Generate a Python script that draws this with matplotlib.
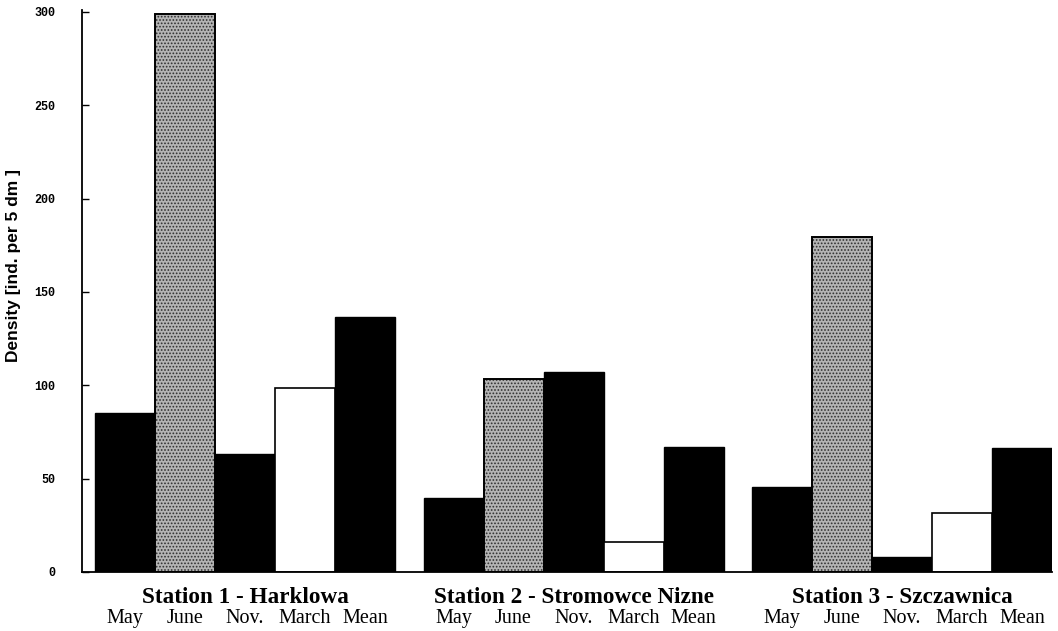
import numpy as np
import matplotlib.pyplot as plt

# datos
estaciones = ['Station 1 - Harklowa', 'Station 2 - Stromowce Nizne', 'Station 3 - Szczawnica']
meses = ['May', 'June', 'Nov.', 'March', 'Mean']
est1 = [85, 299, 63, 98.5, 136.5]
est2 = [39.5, 103.5, 107, 16, 67]
est3 = [45.5, 179.5, 8, 31.5, 66.5]
yticks = [0, 50, 100, 150, 200, 250, 300]

datos = [est1, est2, est3]
estilos = ['negro', 'gris', 'negro', 'blanco', 'negro']
separacion = 5.475  # inicio de cada grupo, en anchos de barra

fig = plt.figure(figsize=(10.58, 6.31), dpi=100)
ax = fig.add_axes([82/1058, 1 - 572/631, (1052 - 82)/1058, 560/631])

plt.rcParams['hatch.linewidth'] = 0.8

for g, valores in enumerate(datos):
    x0 = g * separacion
    for i, v in enumerate(valores):
        x = x0 + i
        if estilos[i] == 'negro':
            ax.bar(x, v, width=1, align='edge', color='black', edgecolor='black', linewidth=1)
        elif estilos[i] == 'blanco':
            ax.bar(x, v, width=1, align='edge', color='white', edgecolor='black', linewidth=1.2)
        else:
            # textura punteada gris
            ax.bar(x, v, width=1, align='edge', color='#b4b4b4', edgecolor='#303030',
                   hatch='.....', linewidth=0)
            ax.bar(x, v, width=1, align='edge', fill=False, edgecolor='black', linewidth=1.4)
    # nombre de la estacion y meses
    ax.text(x0 + 2.5, -0.0554, estaciones[g], transform=ax.get_xaxis_transform(),
            ha='center', va='baseline', fontsize=16.7, fontweight='bold',
            family='Liberation Serif')
    for i, m in enumerate(meses):
        ax.text(x0 + i + 0.5, -0.091, m, transform=ax.get_xaxis_transform(),
                ha='center', va='baseline', fontsize=14.5, family='Liberation Serif')

ax.set_xlim(-13/60, 2*separacion + 5)
ax.set_ylim(0, 300)
ax.set_xticks([])
ax.set_yticks(yticks)
ax.set_yticklabels([str(t) for t in yticks], family='Liberation Mono', fontweight='bold',
                   fontsize=8.5)
ax.tick_params(axis='y', direction='in', length=5, width=1, pad=19)
for lado in ['top', 'right']:
    ax.spines[lado].set_visible(False)
ax.spines['left'].set_linewidth(1.3)
ax.spines['bottom'].set_linewidth(1.3)
ax.spines['left'].set_bounds(0, 301)

fig.text(14/1058, 1 - 265/631, 'Density [ind. per 5 dm ]', rotation=90, ha='center',
         va='center', fontsize=12.5, fontweight='bold', family='Liberation Sans')

plt.savefig('out.png', dpi=100)
